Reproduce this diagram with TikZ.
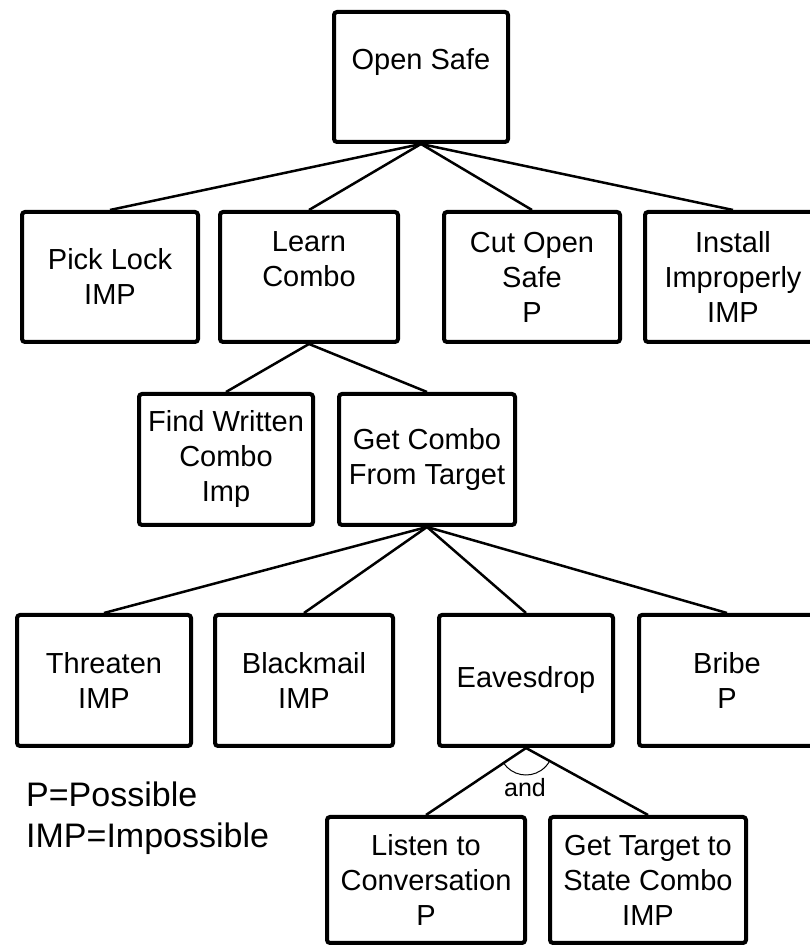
\documentclass[tikz,border=0pt]{standalone}
\usepackage{fontspec}
\setmainfont{Liberation Sans}
\usetikzlibrary{positioning}

\begin{document}
\begin{tikzpicture}[x=1pt,y=1pt]
	\tikzset{block/.style={draw, shape=rectangle, line width=4pt, rounded corners=3pt, align=center, inner sep=0pt,
			minimum width=176pt, minimum height=130pt, font=\fontsize{29}{35}\selectfont},
		link/.style={line width=2.5pt},
		legend/.style={align=left, inner sep=0pt, font=\fontsize{34}{41}\selectfont}
	}
	\useasboundingbox (0,0) rectangle (809,949);
	% goal
	\node [block, minimum width=174pt] (open) at (421,872) {Open Safe\\\mbox{}};
	% first level
	\node [block] (pick) at (110,672) {Pick Lock\\IMP};
	\node [block, right = 18pt of pick, minimum width=178pt] (learn) {Learn\\Combo\\\mbox{}};
	\node [block, right = 42pt of learn] (cut) {Cut Open\\Safe\\P};
	\node [block, right = 21pt of cut] (install) {Install\\Improperly\\IMP};
	% second level
	\node [block, minimum width=174pt, minimum height=131pt] (find) at (226,489.5) {Find Written\\Combo\\Imp};
	\node [block, right = 22pt of find, minimum height=131pt] (getcombo) {Get Combo\\From Target};
	% third level
	\node [block, minimum width=174pt, minimum height=131pt] (threaten) at (104,268.5) {Threaten\\IMP};
	\node [block, right = 20pt of threaten, minimum width=178pt, minimum height=131pt] (blackmail) {Blackmail\\IMP};
	\node [block, right = 42pt of blackmail, minimum width=174pt, minimum height=131pt] (eaves) {Eavesdrop};
	\node [block, right = 22pt of eaves, minimum height=131pt] (bribe) {Bribe\\P};
	% fourth level
	\node [block, minimum width=198pt, minimum height=126pt] (listen) at (426,69) {Listen to\\Conversation\\P};
	\node [block, right = 21pt of listen, minimum width=196pt, minimum height=126pt] (gettarget) {Get Target to\\State Combo\\IMP};
	% connectors
	\foreach \c in {pick,learn,cut,install} \draw[link] (open.south) -- (\c.north);
	\foreach \c in {find,getcombo} \draw[link] (learn.south) -- (\c.north);
	\foreach \c in {threaten,blackmail,eaves,bribe} \draw[link] (getcombo.south) -- (\c.north);
	\foreach \c in {listen,gettarget} \draw[link] (eaves.south) -- (\c.north);
	\draw[line width=1pt] (eaves.south) ++(213.8:27) arc[start angle=213.8, end angle=331.2, radius=27];
	\node [font=\fontsize{25}{30}\selectfont, anchor=base] (andtag) at (525,152) {and};
	% key
	\node [legend, anchor=north west] (key) at (26,167) {P=Possible\\IMP=Impossible};
\end{tikzpicture}
\end{document}
